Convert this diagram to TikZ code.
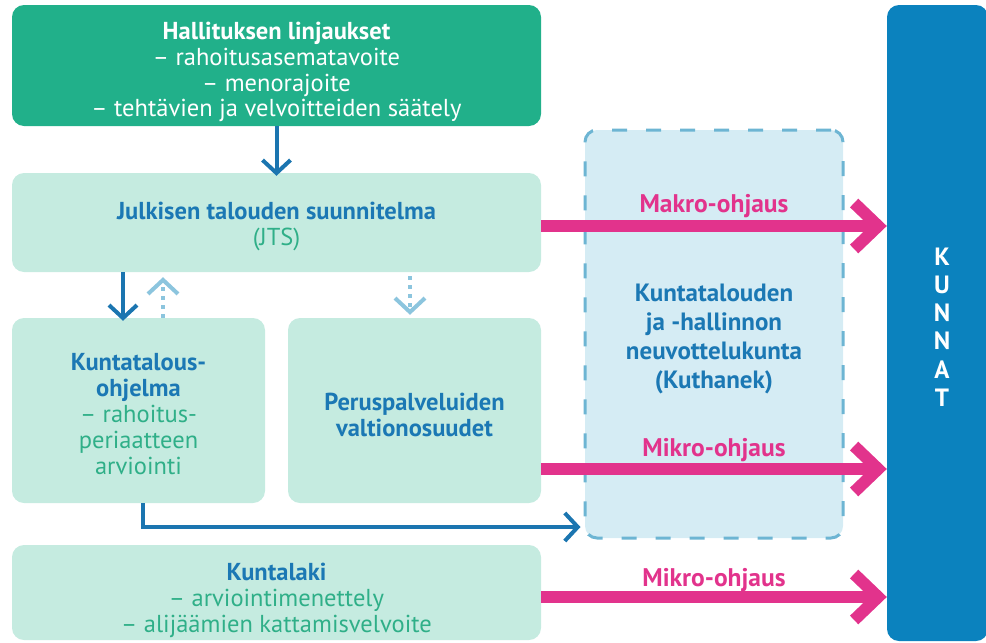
\documentclass[tikz,border=0pt]{standalone}
\usepackage{fontspec}
\setmainfont{PT Sans}
\usetikzlibrary{arrows.meta}
\definecolor{dgreen}{HTML}{21B08A}
\definecolor{mint}{HTML}{C5EBE0}
\definecolor{tblue}{HTML}{1B78B4}
\definecolor{tgreen}{HTML}{2FAF88}
\definecolor{magenta}{HTML}{E2338C}
\definecolor{lblue}{HTML}{D5ECF4}
\definecolor{dashblue}{HTML}{6DB5D3}
\definecolor{kblue}{HTML}{0B82BE}
\definecolor{dotblue}{HTML}{8CC5DE}
\definecolor{ablue}{HTML}{1B75B0}
\tikzset{
  box/.style={rounded corners=12pt, inner sep=0pt},
  txt/.style={inner sep=0pt, align=center, font=\fontsize{24.5}{25.8}\selectfont},
  topbox/.style={box, fill=dgreen},
  mintbox/.style={box, fill=mint},
  kuthbox/.style={box, fill=lblue, draw=dashblue, line width=3pt, dash pattern=on 15pt off 19pt},
  kunbox/.style={box, fill=kblue},
  barrow/.style={draw=ablue, line width=4pt, -{Straight Barb[length=13pt,width=28pt]}},
  darrow/.style={draw=dotblue, line width=4pt, dash pattern=on 4pt off 5pt, -{Straight Barb[length=14pt,width=30pt]}},
  marrow/.style={draw=magenta, line width=12pt, -{Straight Barb[length=24pt,width=46pt]}},
  mlabel/.style={text=magenta, font=\fontsize{25.5}{26}\selectfont\bfseries},
}
\begin{document}
\begin{tikzpicture}[x=1pt,y=-1pt]
\useasboundingbox (0,0) rectangle (986,643);
% boxes
\node[topbox, minimum width=529pt, minimum height=121pt] (top) at (276.5,65.5) {};
\node[mintbox, minimum width=529pt, minimum height=99pt] (jts) at (276.5,222.5) {};
\node[mintbox, minimum width=253pt, minimum height=185pt] (kto) at (138.5,410.5) {};
\node[mintbox, minimum width=253pt, minimum height=185pt] (perus) at (414.5,410.5) {};
\node[mintbox, minimum width=529pt, minimum height=95pt] (laki) at (276.5,592.5) {};
\node[kuthbox, minimum width=258pt, minimum height=408pt] (kuth) at (714,334) {};
\node[kunbox, minimum width=101pt, minimum height=636pt] (kunnat) at (937.5,323) {};
% texts
\node[txt, text=white] (toptxt) at (276.5,72) 
  {\textbf{Hallituksen linjaukset}\\ – rahoitusasematavoite\\ – menorajoite\\ – tehtävien ja velvoitteiden säätely};
\node[txt] (jtstxt) at (276.5,226.5)
  {\textcolor{tblue}{\textbf{Julkisen talouden suunnitelma}}\\ \textcolor{tgreen}{(JTS)}};
\node[txt] (ktotxt) at (138.5,414)
  {\textcolor{tblue}{\textbf{Kuntatalous-}}\\ \textcolor{tblue}{\textbf{ohjelma}}\\ \textcolor{tgreen}{– rahoitus-}\\ \textcolor{tgreen}{periaatteen}\\ \textcolor{tgreen}{arviointi}};
\node[txt] (perustxt) at (414.5,415)
  {\textcolor{tblue}{\textbf{Peruspalveluiden}}\\ \textcolor{tblue}{\textbf{valtionosuudet}}};
\node[txt] (lakitxt) at (276.5,600.5)
  {\textcolor{tblue}{\textbf{Kuntalaki}}\\ \textcolor{tgreen}{– arviointimenettely}\\ \textcolor{tgreen}{– alijäämien kattamisvelvoite}};
\node[txt, text=tblue, font=\fontsize{25}{29.2}\selectfont\bfseries] (kuthtxt) at (714,339)
  {Kuntatalouden\\ ja -hallinnon\\ neuvottelukunta\\ (Kuthanek)};
\node[txt, text=white, font=\fontsize{25}{28.2}\selectfont\bfseries] (kuntxt) at (942,327) {K\\U\\N\\N\\A\\T};
% blue arrows
\coordinate (ax1) at (123,0);
\coordinate (ax2) at (163,0);
\coordinate (ax3) at (410,0);
\coordinate (ax4) at (143,0);
\coordinate (ay4) at (0,527);
\draw[barrow] (top.south) -- ([yshift=-3pt]jts.north);
\draw[barrow] (jts.south -| ax1) -- ([yshift=-3pt]kto.north -| ax1);
\draw[darrow, shorten >=5pt] (kto.north -| ax2) -- (jts.south -| ax2);
\draw[darrow, shorten <=4pt, shorten >=3pt] (jts.south -| ax3) -- (perus.north -| ax3);
\draw[barrow] (kto.south -| ax4) |- ([xshift=-3pt]kuth.west |- ay4);
% magenta arrows
\coordinate (m0) at (541,226);
\coordinate (m1) at (541,469);
\coordinate (m2) at (541,597);
\draw[marrow] (m0) -- (kunnat.west |- m0);
\draw[marrow] (m1) -- (kunnat.west |- m1);
\draw[marrow] (m2) -- (kunnat.west |- m2);
\node[mlabel] (l0) at (714,206) {Makro-ohjaus};
\node[mlabel] (l1) at (714,450) {Mikro-ohjaus};
\node[mlabel] (l2) at (714,580) {Mikro-ohjaus};
\end{tikzpicture}
\end{document}
